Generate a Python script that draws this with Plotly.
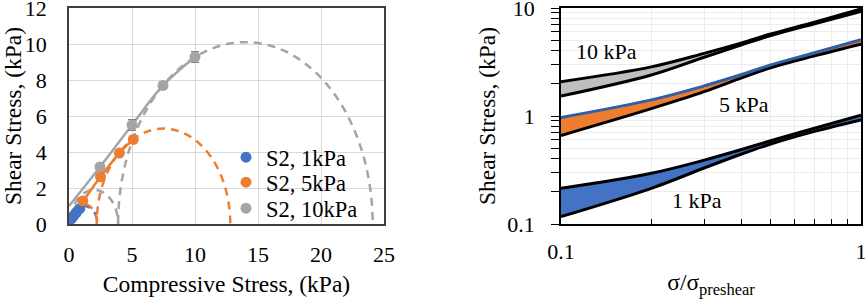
import plotly.graph_objects as go

# ---------------- Left panel data ----------------
# measured points (S2)
s1_x = [0.2, 0.4, 0.6, 0.85]
s1_y = [0.3, 0.48, 0.65, 0.85]
s5_x = [1.1, 2.5, 4.0, 5.1]
s5_y = [1.28, 2.62, 3.94, 4.7]
s5_err = [0.1, 0.12, 0.12, 0.15]
s10_x = [2.46, 5.0, 7.46, 10.0]
s10_y = [3.17, 5.5, 7.7, 9.28]
s10_err = [0.2, 0.3, 0.2, 0.3]

# yield loci (solid lines)
loc1_x = [0.05, 0.2, 0.4, 0.6, 0.85]
loc1_y = [0.22, 0.3, 0.48, 0.65, 0.85]
loc5_x = [0.1, 1.1, 2.5, 4.0, 5.1]
loc5_y = [0.45, 1.28, 2.62, 3.94, 4.7]
loc10_x = [0.0, 2.46, 5.0, 7.46, 10.0]
loc10_y = [1.0, 3.17, 5.5, 7.7, 9.28]

# Mohr circles: (sigma_min, sigma_max) for each circle
mohr_colors = ["#4472C4", "#4472C4", "#ED7D31", "#ED7D31", "#A5A5A5", "#A5A5A5"]
mohr_smin = [0.0, 0.25, 0.0, 2.2, 0.1, 3.9]
mohr_smax = [0.3, 2.25, 2.25, 12.8, 3.9, 24.1]

# ---------------- Right panel data ----------------
ratio = [0.1, 0.2, 0.3, 0.4, 0.5, 0.7, 1.0]
k10_hi = [2.08, 2.85, 3.8, 4.75, 5.75, 7.4, 9.8]
k10_lo = [1.53, 2.4, 3.5, 4.55, 5.55, 7.15, 9.3]
k5_hi = [0.97, 1.41, 1.9, 2.42, 2.97, 3.85, 5.1]
k5_lo = [0.66, 1.17, 1.68, 2.25, 2.8, 3.6, 4.62]
k1_hi = [0.214, 0.295, 0.39, 0.49, 0.59, 0.77, 1.02]
k1_lo = [0.117, 0.214, 0.33, 0.445, 0.55, 0.72, 0.92]

FONT = "Liberation Serif"
BLUE, ORANGE, GRAY = "#4472C4", "#ED7D31", "#A5A5A5"

fig = go.Figure()

# yield loci
for lx, ly, c in [(loc1_x, loc1_y, BLUE), (loc5_x, loc5_y, ORANGE), (loc10_x, loc10_y, GRAY)]:
    fig.add_trace(go.Scatter(x=lx, y=ly, mode="lines", line=dict(color=c, width=2.5, shape="spline"),
                             showlegend=False, xaxis="x", yaxis="y", hoverinfo="skip"))

fig.add_trace(go.Scatter(x=s1_x, y=s1_y, mode="markers", name="S2, 1kPa", legend="legend",
                         marker=dict(color=BLUE, size=11), xaxis="x", yaxis="y"))
fig.add_trace(go.Scatter(x=s5_x, y=s5_y, mode="markers", name="S2, 5kPa", legend="legend2",
                         error_y=dict(type="data", array=s5_err, color="#7f7f7f", thickness=1.2, width=4),
                         marker=dict(color=ORANGE, size=11), xaxis="x", yaxis="y"))
fig.add_trace(go.Scatter(x=s10_x, y=s10_y, mode="markers", name="S2, 10kPa", legend="legend3",
                         error_y=dict(type="data", array=s10_err, color="#7f7f7f", thickness=1.2, width=4),
                         marker=dict(color=GRAY, size=11), xaxis="x", yaxis="y"))

shapes = []
for c, a, b in zip(mohr_colors, mohr_smin, mohr_smax):
    r = (b - a) / 2
    shapes.append(dict(type="circle", xref="x", yref="y", x0=a, x1=b, y0=-r, y1=r,
                       line=dict(color=c, width=2.5, dash="8px,6px"), layer="between"))

# ---------------- Right panel traces ----------------
bands = [
    (k10_lo, k10_hi, "#BFBFBF", "black"),
    (k5_lo, k5_hi, ORANGE, "#2E5FA8"),
    (k1_lo, k1_hi, BLUE, "black"),
]
for lo, hi, fc, hc in bands:
    fig.add_trace(go.Scatter(x=ratio, y=lo, mode="lines", line=dict(color="black", width=3, shape="spline"),
                             showlegend=False, xaxis="x2", yaxis="y2", hoverinfo="skip"))
    fig.add_trace(go.Scatter(x=ratio, y=hi, mode="lines", fill="tonexty", fillcolor=fc,
                             line=dict(color=hc, width=3, shape="spline"),
                             showlegend=False, xaxis="x2", yaxis="y2", hoverinfo="skip"))

annos = [
    dict(text="10 kPa", x=-0.847, y=0.593),
    dict(text="5 kPa", x=-0.39, y=0.102),
    dict(text="1 kPa", x=-0.547, y=-0.787),
]
annotations = [dict(xref="x2", yref="y2", showarrow=False, font=dict(family=FONT, size=22, color="black"), **a)
               for a in annos]

ydom = [1 - 224 / 300, 1 - 8 / 300]
axfont = dict(family=FONT, size=22, color="black")
titfont = dict(family=FONT, size=23.5, color="black")
legfont = dict(family=FONT, size=22.5, color="black")


def leg(top_px):
    return dict(x=226 / 865, y=1 - top_px / 300, xanchor="left", yanchor="top",
                bgcolor="rgba(255,255,255,0)", font=legfont, itemwidth=30, traceorder="normal")


fig.update_layout(
    width=865, height=300,
    margin=dict(l=0, r=0, t=0, b=0),
    paper_bgcolor="white", plot_bgcolor="white",
    font=dict(family=FONT, size=22, color="black"),
    shapes=shapes,
    annotations=annotations,
    showlegend=True,
    legend=leg(136), legend2=leg(161), legend3=leg(187),
    xaxis=dict(domain=[69 / 865, 384 / 865], range=[0, 25], dtick=5, showgrid=True, gridcolor="#d9d9d9",
               zeroline=False, showline=True, linecolor="#404040", linewidth=1.5, mirror=True,
               ticks="", tickfont=axfont, ticklabelstandoff=10, ticklabeloverflow="allow",
               title=dict(text="Compressive Stress, (kPa)", font=titfont, standoff=9), automargin=False,
               anchor="y"),
    yaxis=dict(domain=ydom, range=[0, 12], dtick=2, showgrid=True, gridcolor="#d9d9d9",
               zeroline=False, showline=True, linecolor="#404040", linewidth=1.5, mirror=True,
               ticks="", tickfont=axfont, ticklabelstandoff=16, ticklabeloverflow="allow",
               title=dict(text="Shear Stress, (kPa)", font=titfont, standoff=7), automargin=False,
               anchor="x"),
    xaxis2=dict(domain=[561 / 865, 861 / 865], type="log", range=[-1, 0], dtick=1, showgrid=True,
                gridcolor="#e3e3e3", zeroline=False, showline=True, linecolor="black", linewidth=1.5,
                mirror=True, ticks="inside", ticklen=6, tickcolor="black", tickfont=axfont,
                ticklabelstandoff=7, ticklabeloverflow="allow",
                minor=dict(ticks="inside", ticklen=5, tickcolor="black", showgrid=True, gridcolor="#ececec",
                           dtick="D1"),
                title=dict(text="σ/σ<sub>preshear</sub>", font=titfont, standoff=10), automargin=False,
                anchor="y2"),
    yaxis2=dict(domain=ydom, type="log", range=[-1, 1], dtick=1, showgrid=True, gridcolor="#e3e3e3",
                zeroline=False, showline=True, linecolor="black", linewidth=1.5, mirror=True,
                ticks="outside", ticklen=8, tickcolor="black", tickfont=axfont, ticklabelstandoff=12,
                ticklabeloverflow="allow",
                minor=dict(ticks="outside", ticklen=8, tickcolor="black", showgrid=True, gridcolor="#ececec",
                           dtick="D1"),
                title=dict(text="Shear Stress, (kPa)", font=titfont, standoff=5), automargin=False,
                anchor="x2"),
)

fig.write_html("out.html", config={"displayModeBar": False},
               post_script="document.body.style.margin='0';")
